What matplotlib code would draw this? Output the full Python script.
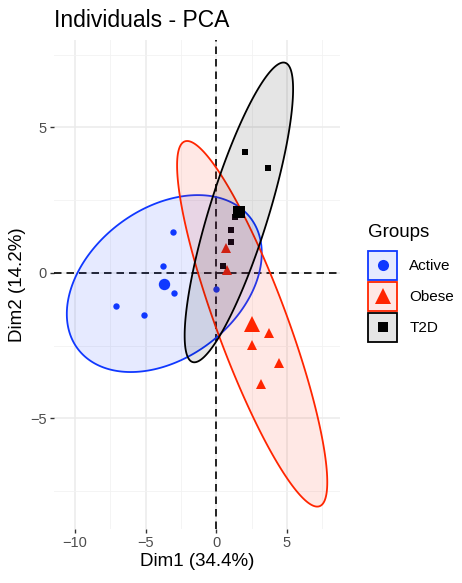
import numpy as np
import matplotlib
matplotlib.use('Agg')
import matplotlib.pyplot as plt
from matplotlib.patches import Polygon, Rectangle
from matplotlib.lines import Line2D
from matplotlib.legend_handler import HandlerBase

plt.rcParams['font.family'] = ['Liberation Sans', 'DejaVu Sans']

# individuals on the first two dimensions
groups = ['Active', 'Obese', 'T2D']
active_x = [-3.08, -3.75, -2.99, -7.10, -5.09, -0.04, -3.68]
active_y = [1.39, 0.25, -0.71, -1.14, -1.45, -0.57, -0.36]
obese_x = [0.67, 0.74, 3.72, 2.50, 4.45, 3.20]
obese_y = [0.87, 0.09, -2.06, -2.48, -3.10, -3.84]
t2d_x = [2.04, 3.67, 1.33, 1.05, 1.03, 0.51]
t2d_y = [4.17, 3.60, 1.91, 1.48, 1.05, 0.25]

xlabel = 'Dim1 (34.4%)'
ylabel = 'Dim2 (14.2%)'
title = 'Individuals - PCA'
xticks = [-10, -5, 0, 5]
yticks = [-5, 0, 5]

colors = ['#1038FF', '#FF2500', '#000000']
markers = ['o', '^', 's']
small_ms = [4.6, 6.5, 4.4]
big_ms = [8.2, 11.0, 8.6]
key_ms = [8.0, 12.0, 6.8]


def norm_ellipse(x, y, level=0.95, segments=200):
    # same idea as stat_ellipse(type = "norm")
    x = np.asarray(x)
    y = np.asarray(y)
    n = len(x)
    center = np.array([x.mean(), y.mean()])
    chol = np.linalg.cholesky(np.cov(x, y))
    d2 = n - 1
    fq = d2 / 2 * ((1 - level) ** (-2 / d2) - 1)  # qf(level, 2, d2)
    radius = np.sqrt(2 * fq)
    t = np.linspace(0, 2 * np.pi, segments)
    unit = np.vstack([np.cos(t), np.sin(t)])
    pts = center[:, None] + radius * chol @ unit
    return pts.T


class KeyHandler(HandlerBase):
    # filled box with the marker in the middle, like a ggplot legend key
    def create_artists(self, legend, orig_handle, xdescent, ydescent,
                       width, height, fontsize, trans):
        c, m, ms = orig_handle
        box = Rectangle((-xdescent, -ydescent), width, height,
                        facecolor=matplotlib.colors.to_rgba(c, 0.1), edgecolor=c,
                        lw=1.3, transform=trans)
        mk = Line2D([-xdescent + width / 2], [-ydescent + height / 2], ls='',
                    marker=m, color=c, ms=ms, mew=0, transform=trans)
        return [box, mk]


data = [(active_x, active_y), (obese_x, obese_y), (t2d_x, t2d_y)]
ellipses = [norm_ellipse(x, y) for x, y in data]

fig = plt.figure(figsize=(4.62, 5.83), dpi=100)
ax = fig.add_axes([53.8 / 462, 1 - 528.8 / 583, (340.3 - 53.8) / 462, (528.8 - 40.3) / 583])

# limits like ggplot: 5% expansion around everything drawn
allx = np.concatenate([e[:, 0] for e in ellipses])
ally = np.concatenate([e[:, 1] for e in ellipses])
dx = (allx.max() - allx.min()) * 0.05
dy = (ally.max() - ally.min()) * 0.05
ax.set_xlim(allx.min() - dx, allx.max() + dx)
ax.set_ylim(ally.min() - dy, ally.max() + dy)

for s in ax.spines.values():
    s.set_visible(False)
ax.set_xticks(xticks)
ax.set_yticks(yticks)
ax.set_xticks([-7.5, -2.5, 2.5, 7.5], minor=True)
ax.set_yticks([-7.5, -2.5, 2.5, 7.5], minor=True)
ax.grid(True, which='major', color='#EBEBEB', lw=1.1, zorder=0)
ax.grid(True, which='minor', color='#F2F2F2', lw=0.6, zorder=0)
ax.set_axisbelow(True)
ax.tick_params(which='major', length=3, width=1, color='#333333', labelsize=10.5,
               labelcolor='#4D4D4D', pad=2)
ax.tick_params(which='minor', length=0)

ax.axhline(0, color='black', lw=1.2, ls=(0, (4.5, 3)), zorder=1)
ax.axvline(0, color='black', lw=1.2, ls=(0, (4.5, 3)), zorder=1)

for (x, y), c, m, ms in zip(data, colors, markers, small_ms):
    ax.plot(x, y, ls='', marker=m, color=c, ms=ms, mew=0, zorder=2)

for e, c in zip(ellipses, colors):
    ax.add_patch(Polygon(e, closed=True, facecolor=matplotlib.colors.to_rgba(c, 0.1),
                         edgecolor=c, lw=1.3, zorder=3))

for (x, y), c, m, ms in zip(data, colors, markers, big_ms):
    ax.plot([np.mean(x)], [np.mean(y)], ls='', marker=m, color=c, ms=ms, mew=0, zorder=4)

ax.set_xlabel(xlabel, fontsize=13.5, labelpad=2)
ax.set_ylabel(ylabel, fontsize=13.5, labelpad=3)
fig.text(54 / 462, 1 - 27 / 583, title, fontsize=16.5, ha='left', va='baseline')

handles = [(c, m, ms) for c, m, ms in zip(colors, markers, key_ms)]
leg = fig.legend(handles, groups, handler_map={tuple: KeyHandler()},
                 loc='upper left', bbox_to_anchor=(368 / 462, 1 - 224 / 583),
                 frameon=False, fontsize=11, title='Groups', title_fontsize=13.5,
                 handlelength=1.9, handleheight=2.55, handletextpad=0.8,
                 labelspacing=0.12, borderpad=0, borderaxespad=0, alignment='left')
leg._legend_box.sep = 7

fig.savefig('out.png', dpi=100)
